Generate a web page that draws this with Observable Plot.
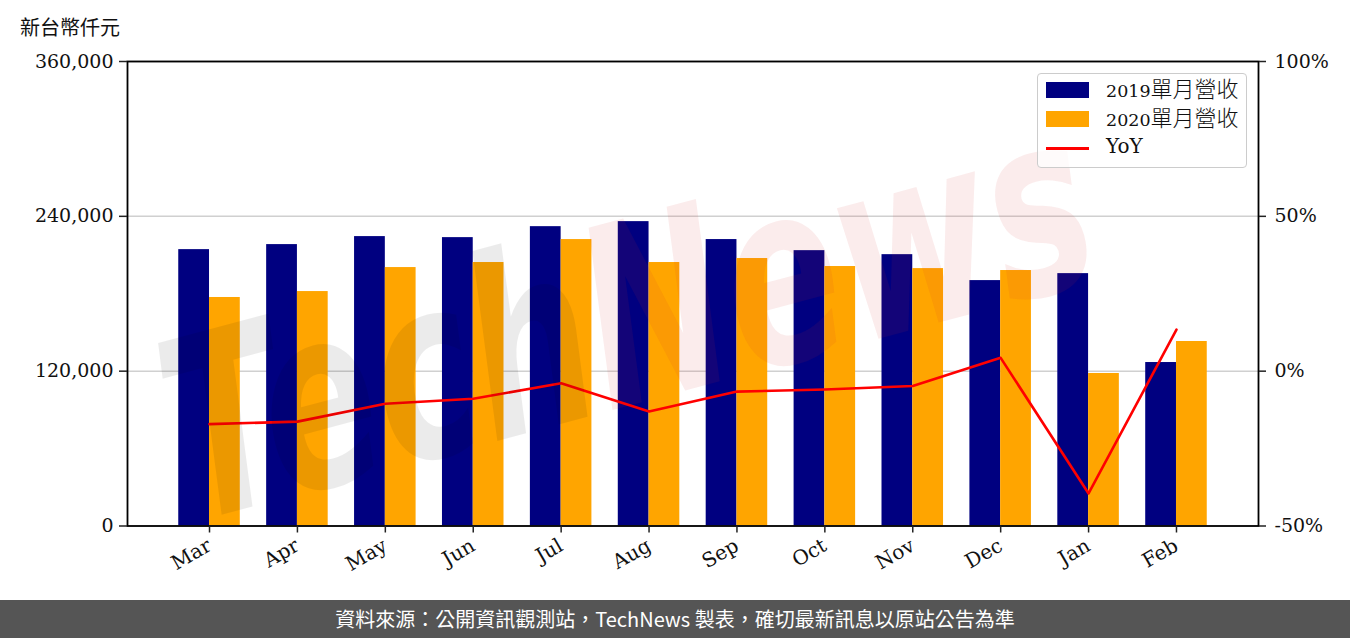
<!DOCTYPE html>
<html lang="zh-TW">
<head>
<meta charset="utf-8">
<script src="https://cdn.jsdelivr.net/npm/d3@7"></script>
<script src="https://cdn.jsdelivr.net/npm/@observablehq/plot@0.6"></script>
<style>
  body { margin: 0; background: #fff; }
  #wrap { position: relative; width: 1350px; height: 638px; overflow: hidden; background: #fff; }
  #chart { position: absolute; left: 0; top: 0; }
  #ylabel { position: absolute; left: 20px; top: 14px; font-family: "Noto Sans CJK TC", sans-serif; font-size: 20px; line-height: 26px; color: #111; }
  #wm { position: absolute; left: 0; top: 0; pointer-events: none; }
  #legend { position: absolute; left: 1037px; top: 73px; width: 210px; height: 95px; box-sizing: border-box;
            border: 1.5px solid #cccccc; border-radius: 4px; background: rgba(255,255,255,0.8); }
  .sw { position: absolute; left: 8px; width: 43px; }
  .lt { position: absolute; left: 68px; font-family: "DejaVu Serif", serif; font-size: 17.5px; color: #111; white-space: nowrap; line-height: 24px; }
  .lt .cjk { font-family: "Noto Sans CJK TC", sans-serif; font-size: 22px; font-weight: 300; }
  .lt .big { font-size: 20px; }
  #footer { position: absolute; left: 0; top: 600px; width: 1350px; height: 38px; background: #555555; color: #fff;
            font-family: "Noto Sans CJK TC", sans-serif; font-size: 20px; line-height: 38px; text-align: center; }
</style>
</head>
<body>
<div id="wrap">
  <div id="chart"></div>
  <svg id="wm" width="1350" height="600"></svg>
  <div id="ylabel"></div>
  <div id="legend"></div>
  <div id="footer" lang="zh-TW"></div>
</div>
<script>
// ---- data ----
const months = ["Mar","Apr","May","Jun","Jul","Aug","Sep","Oct","Nov","Dec","Jan","Feb"];
const rev2019 = [214200,218100,224300,223500,232000,235900,222000,213400,210300,190200,195600,126700];
const rev2020 = [177100,181700,200300,204200,222000,204200,207300,201100,199500,198000,118200,143000];
const yoyPct  = [-17.1,-16.3,-10.5,-8.9,-3.9,-13.0,-6.6,-5.9,-4.8,4.3,-39.5,13.4];
const leftTicks = [0,120000,240000,360000];
const rightTicks = [-50,0,50,100];
const seriesNames = ["2019單月營收","2020單月營收","YoY"];
const seriesColors = ["#000080","#FFA500","#FF0000"];
const yLabel = "新台幣仟元";
const footerText = "資料來源：公開資訊觀測站，TechNews 製表，確切最新訊息以原站公告為準";
const watermark = ["Tech","News"];

// ---- layout ----
const W = 1350, H = 600, ML = 127, MR = 92, MT = 61, MB = 74.5;
const pIn = 0.3, pOut = 0.583;
const step = (W - ML - MR) / (months.length - pIn + 2 * pOut);
const half = step * (1 - pIn) / 2;

// right axis (%) mapped onto left axis units
const rMin = rightTicks[0], rMax = rightTicks[rightTicks.length - 1];
const lMax = leftTicks[leftTicks.length - 1];
const toLeft = p => (p - rMin) / (rMax - rMin) * lMax;

const data = months.map((m, i) => ({month: m, v2019: rev2019[i], v2020: rev2020[i], yoy: yoyPct[i]}));

const chart = Plot.plot({
  width: W, height: H,
  marginLeft: ML, marginRight: MR, marginTop: MT, marginBottom: MB,
  style: {fontFamily: "DejaVu Serif, serif", fontSize: "19px", color: "#111", background: "transparent"},
  x: {type: "band", domain: months, paddingInner: pIn, paddingOuter: pOut, align: 0.5, round: false},
  y: {domain: [0, lMax]},
  marks: [
    Plot.gridY(leftTicks, {stroke: "#d0d0d0", strokeOpacity: 1, strokeWidth: 1.5}),
    Plot.barY(data, {x: "month", y: "v2019", fill: seriesColors[0], insetRight: half, insetLeft: 0}),
    Plot.barY(data, {x: "month", y: "v2020", fill: seriesColors[1], insetLeft: half, insetRight: 0}),
    Plot.lineY(data, {x: "month", y: d => toLeft(d.yoy), stroke: seriesColors[2], strokeWidth: 2.6}),
    Plot.frame({stroke: "#000", strokeWidth: 1.8}),
    Plot.axisY({ticks: leftTicks, tickFormat: d3.format(","), tickSize: 8, tickPadding: 6, label: null, stroke: "#222", strokeWidth: 1.5, fontSize: 19}),
    Plot.axisY({anchor: "right", ticks: rightTicks.map(toLeft), tickFormat: (d, i) => rightTicks[i] + "%", tickSize: 7, tickPadding: 9, label: null, stroke: "#222", strokeWidth: 1.5, fontSize: 19}),
    Plot.axisX({tickRotate: -30, tickSize: 7, tickPadding: 11, label: null, stroke: "#222", strokeWidth: 1.5, fontSize: 20})
  ]
});
document.getElementById("chart").appendChild(chart);

// y label and footer
document.getElementById("ylabel").textContent = yLabel;
document.getElementById("footer").textContent = footerText;

// legend
const legend = document.getElementById("legend");
const rows = [
  {top: 8, kind: "rect"},
  {top: 37, kind: "rect"},
  {top: 67, kind: "line"}
];
seriesNames.forEach((name, i) => {
  const r = rows[i];
  const sw = document.createElement("div");
  sw.className = "sw";
  sw.style.background = seriesColors[i];
  if (r.kind === "rect") { sw.style.top = r.top + "px"; sw.style.height = "16px"; }
  else { sw.style.top = (r.top + 6) + "px"; sw.style.height = "3px"; }
  legend.appendChild(sw);
  const t = document.createElement("div");
  t.className = "lt";
  t.style.top = (r.top - 7) + "px";
  const m = name.match(/^([0-9A-Za-z]*)(.*)$/);
  const a = document.createElement("span"); a.textContent = m[1]; if (!m[2]) a.className = "big"; t.appendChild(a);
  if (m[2]) { const b = document.createElement("span"); b.className = "cjk"; b.textContent = m[2]; t.appendChild(b); }
  legend.appendChild(t);
});

// watermark (faint, rotated, horizontally condensed)
const wm = d3.select("#wm");
const txt = wm.append("text")
  .attr("x", 0).attr("y", 0)
  .attr("text-anchor", "middle")
  .attr("transform", "translate(650, 400) rotate(-15) scale(0.68, 1)")
  .attr("font-family", "DejaVu Sans, sans-serif")
  .attr("font-weight", "bold")
  .attr("font-style", "italic")
  .attr("font-size", 250);
txt.append("tspan").text(watermark[0]).attr("fill", "rgba(0,0,0,0.08)");
txt.append("tspan").text(watermark[1]).attr("fill", "rgba(215,40,40,0.09)");
</script>
</body>
</html>
